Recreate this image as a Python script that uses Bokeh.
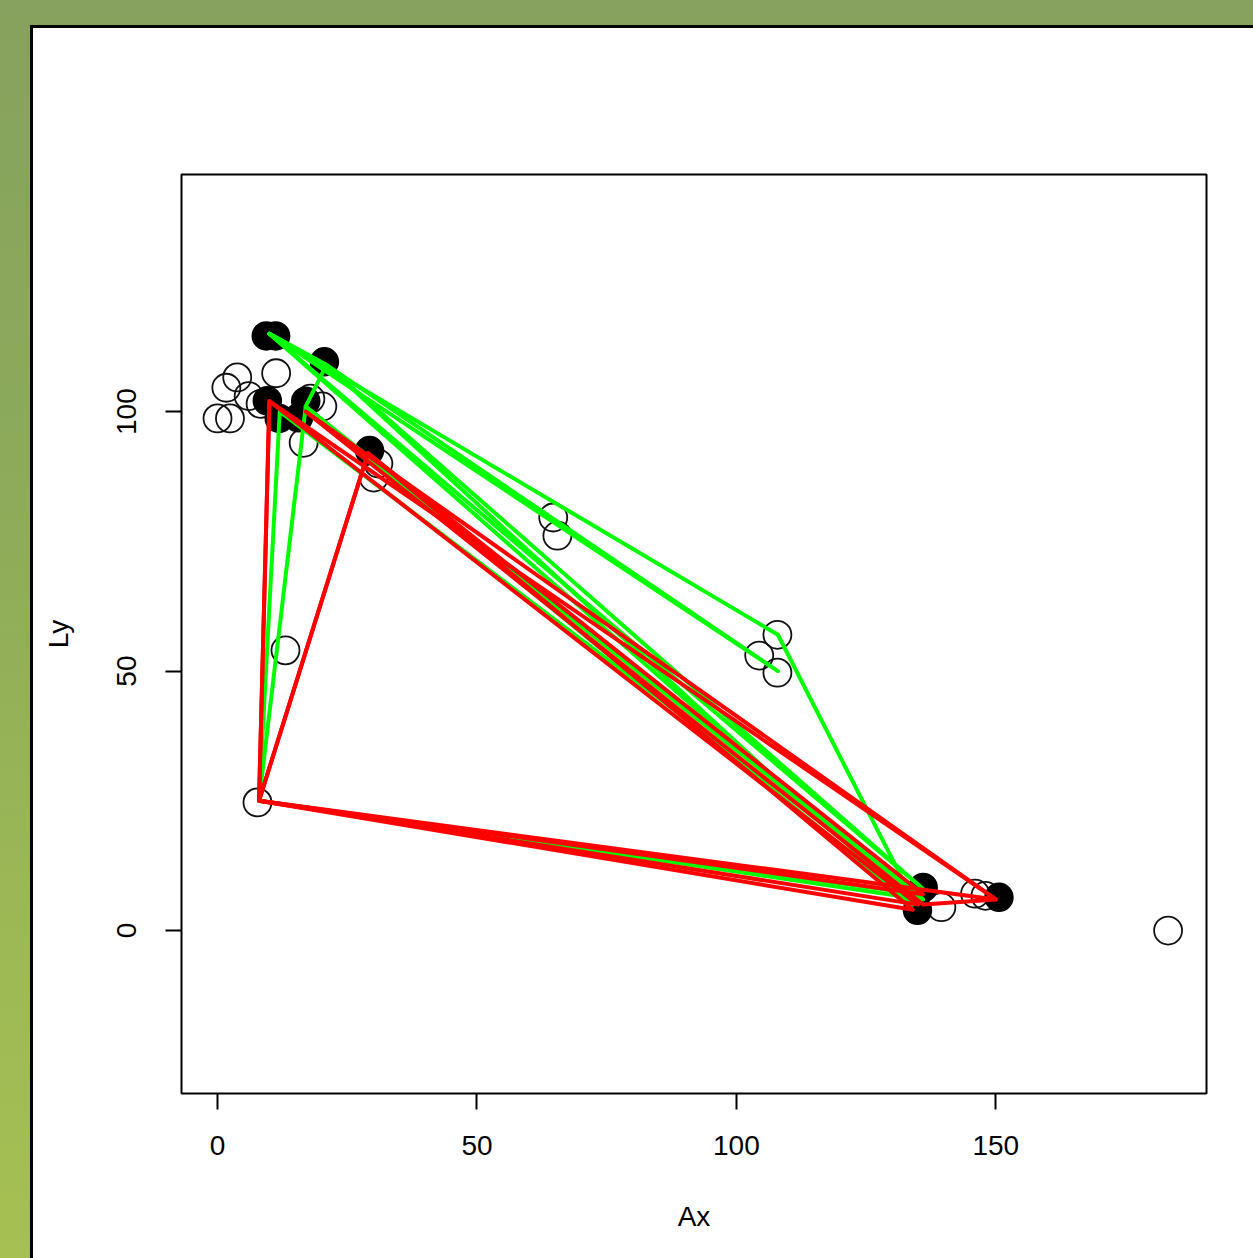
from bokeh.plotting import figure
from bokeh.models import FixedTicker, Range1d, GlobalInlineStyleSheet
from bokeh.embed import file_html
from bokeh.resources import INLINE

# ---- data ----
x_ticks = [0, 50, 100, 150]
y_ticks = [0, 50, 100]

open_x = [0.0, 2.4, 1.7, 3.8, 11.3, 8.3, 6.0, 16.6, 20.2, 17.9, 13.1, 7.7,
          64.7, 65.5, 107.9, 104.4, 107.9, 183.2, 139.5, 146.0, 148.0, 30.1, 31.0]
open_y = [98.7, 98.7, 104.6, 106.6, 107.4, 101.5, 103.0, 94.0, 101.0, 102.5, 54.0, 24.7,
          79.6, 76.1, 57.0, 53.0, 49.7, 0.0, 4.5, 7.1, 6.7, 87.3, 90.0]

filled_x = [9.4, 11.2, 20.6, 9.6, 11.9, 17.0, 15.6, 29.3, 136.0, 134.9, 150.6]
filled_y = [114.6, 114.6, 109.6, 102.1, 98.7, 102.0, 98.8, 92.5, 8.3, 3.9, 6.4]

green_xs = [[10, 108, 134, 10], [10, 108, 21, 10], [10, 136, 21, 10],
            [21, 134, 17, 21], [12, 8, 135, 12], [17, 8, 136, 17]]
green_ys = [[115, 57, 6, 115], [115, 50, 109, 115], [115, 8, 109, 115],
            [109, 5, 101, 109], [100, 25, 7, 100], [101, 25, 6, 101]]

red_xs = [[10, 8, 135, 10], [10, 8, 150, 10], [29, 8, 136, 29],
          [29, 8, 134, 29], [17, 150, 136, 17]]
red_ys = [[102, 25, 5, 102], [102, 25, 6, 102], [92, 25, 7, 92],
          [92, 25, 4, 92], [100, 6, 5, 100]]

FONT = "Liberation Sans"

p = figure(width=1245, height=1250, output_backend="svg", toolbar_location=None,
           x_range=Range1d(-6.94, 190.6), y_range=Range1d(-31.4, 145.7),
           min_border_left=181, min_border_right=39,
           min_border_top=174, min_border_bottom=157)

p.stylesheets = [GlobalInlineStyleSheet(css="""
html, body {
  background:
    linear-gradient(#ffffff, #ffffff) 33px 28px / 100% 100% no-repeat,
    linear-gradient(#000000, #000000) 30px 25px / 100% 100% no-repeat,
    linear-gradient(to bottom, #86a25e 0%, #8dab5a 40%, #9db955 75%, #a6c052 100%);
}
""")]

p.border_fill_alpha = 0
p.background_fill_color = "white"
p.grid.visible = False
p.outline_line_color = "black"
p.outline_line_width = 2

for ax in (p.xaxis, p.yaxis):
    ax.axis_line_color = None
    ax.major_tick_line_color = "black"
    ax.major_tick_line_width = 2
    ax.major_tick_out = 16
    ax.major_tick_in = 0
    ax.minor_tick_line_color = None
    ax.major_label_text_font = FONT
    ax.major_label_text_font_size = "28px"
    ax.major_label_text_color = "black"
    ax.axis_label_text_font = FONT
    ax.axis_label_text_font_size = "28px"
    ax.axis_label_text_font_style = "normal"
    ax.axis_label_text_color = "black"

p.xaxis.ticker = FixedTicker(ticks=x_ticks)
p.yaxis.ticker = FixedTicker(ticks=y_ticks)
p.xaxis.axis_label = "Ax"
p.yaxis.axis_label = "Ly"
p.xaxis.major_label_standoff = 26
p.yaxis.major_label_standoff = 29
p.xaxis.axis_label_standoff = 43
p.yaxis.axis_label_standoff = 41
p.yaxis.major_label_orientation = "vertical"

p.scatter(open_x, open_y, marker="circle", size=28, fill_color=None,
          line_color="#111111", line_width=1.8)
p.scatter(filled_x, filled_y, marker="circle", size=28, fill_color="black",
          line_color="black", line_width=1.5)

p.multi_line(green_xs, green_ys, line_color="#00ff00", line_width=4,
             line_join="round", line_cap="round")
p.multi_line(red_xs, red_ys, line_color="#ff0000", line_width=4,
             line_join="round", line_cap="round")

open("out.html", "w").write(file_html(p, INLINE))
